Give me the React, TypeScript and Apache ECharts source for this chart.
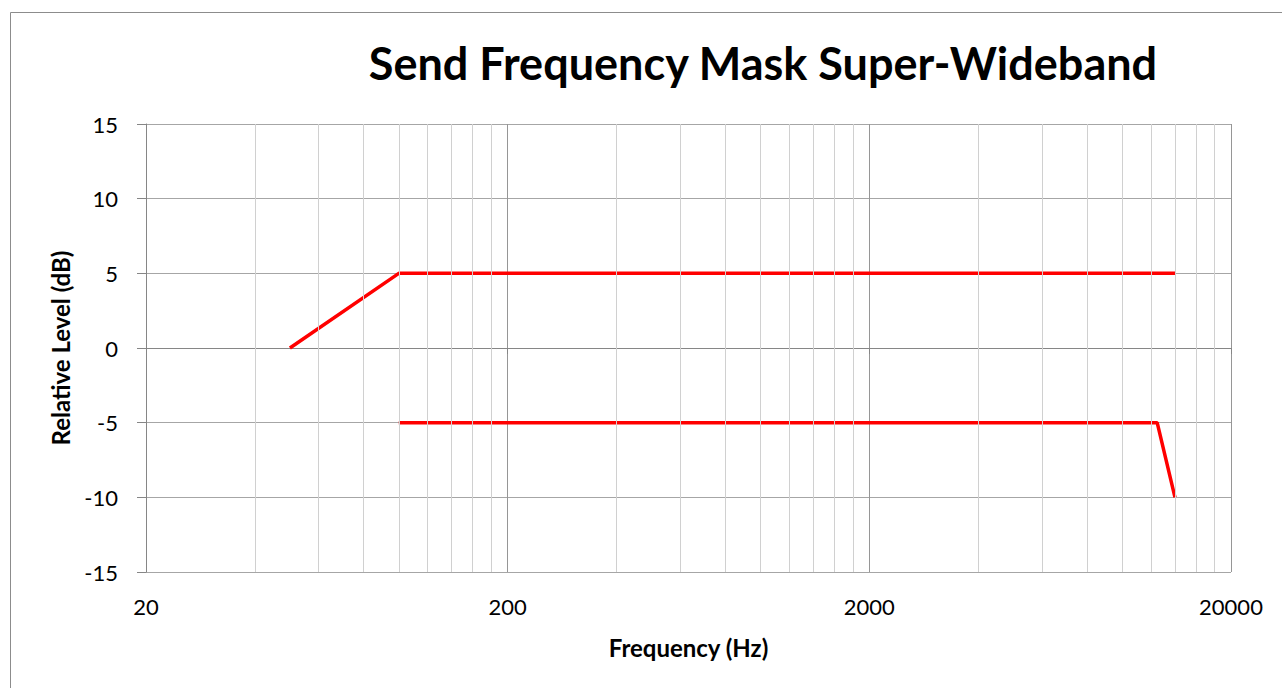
import React, { useEffect, useRef } from "react";
import * as echarts from "echarts";

const TITLE = "Send Frequency Mask Super-Wideband";
const X_NAME = "Frequency (Hz)";
const Y_NAME = "Relative Level (dB)";

const X_MAJOR = [20, 200, 2000, 20000];
const X_MINOR = [
  40, 60, 80, 100, 120, 140, 160, 180,
  400, 600, 800, 1000, 1200, 1400, 1600, 1800,
  4000, 6000, 8000, 10000, 12000, 14000, 16000, 18000,
];

const UPPER_FREQ = [50, 100, 14000];
const UPPER_DB = [0, 5, 5];
const LOWER_FREQ = [100, 12500, 14000];
const LOWER_DB = [-5, -5, -10];

const FONT = "Lato, 'Open Sans', sans-serif";

export default function App() {
  const ref = useRef<HTMLDivElement>(null);
  useEffect(() => {
    if (!ref.current) return;
    const chart = echarts.init(ref.current, undefined, { renderer: "svg" });
    const red = { color: "#ff0000", width: 3.5 };
    chart.setOption({
      animation: false,
      backgroundColor: "#ffffff",
      textStyle: { fontFamily: FONT },
      title: {
        text: TITLE,
        left: 758,
        top: 35,
        textAlign: "center",
        textStyle: { fontFamily: FONT, fontSize: 45, fontWeight: "bold", color: "#000" },
      },
      graphic: [
        {
          type: "rect",
          shape: { x: 10.5, y: 12.5, width: 1300, height: 700 },
          style: { fill: "none", stroke: "#8c8c8c", lineWidth: 1 },
          silent: true,
          z: -1,
        },
      ],
      grid: { left: 146, right: 51, top: 124, bottom: 116, containLabel: false },
      xAxis: {
        type: "log",
        logBase: 10,
        min: 20,
        max: 20000,
        name: X_NAME,
        nameLocation: "middle",
        nameGap: 63,
        nameTextStyle: { fontFamily: FONT, fontSize: 24, fontWeight: "bold", color: "#000" },
        axisLine: { show: true, lineStyle: { color: "#868686", width: 1 } },
        axisTick: { show: true, length: 6, customValues: X_MAJOR, lineStyle: { color: "#868686" } },
        axisLabel: {
          customValues: X_MAJOR,
          margin: 23,
          fontFamily: FONT,
          fontSize: 22,
          color: "#000",
          formatter: (v: number) => String(Math.round(v)),
        },
        splitLine: { show: true, lineStyle: { color: "#969696", width: 1 } },
        minorTick: { show: false },
        minorSplitLine: { show: false },
      },
      yAxis: {
        type: "value",
        min: -15,
        max: 15,
        interval: 5,
        name: Y_NAME,
        nameLocation: "middle",
        nameGap: 74,
        nameRotate: 90,
        nameTextStyle: { fontFamily: FONT, fontSize: 24, fontWeight: "bold", color: "#000" },
        axisLine: { show: true, lineStyle: { color: "#868686", width: 1 } },
        axisTick: { show: true, inside: false, length: 9, lineStyle: { color: "#868686" } },
        axisLabel: { margin: 28, fontFamily: FONT, fontSize: 22, color: "#000" },
        splitLine: { show: true, lineStyle: { color: "#a6a6a6", width: 1 } },
      },
      series: [
        {
          type: "line",
          data: [],
          silent: true,
          z: 1,
          markLine: {
            silent: true,
            symbol: ["none", "none"],
            label: { show: false },
            lineStyle: { color: "#d0d0d0", type: "solid", width: 1 },
            emphasis: { disabled: true },
            data: X_MINOR.map((v) => ({ xAxis: v })),
          },
        },
        {
          type: "line",
          data: UPPER_FREQ.map((f, i) => [f, UPPER_DB[i]]),
          showSymbol: false,
          symbol: "none",
          lineStyle: red,
          itemStyle: { color: "#ff0000" },
          z: 3,
          silent: true,
        },
        {
          type: "line",
          data: LOWER_FREQ.map((f, i) => [f, LOWER_DB[i]]),
          showSymbol: false,
          symbol: "none",
          lineStyle: red,
          itemStyle: { color: "#ff0000" },
          z: 3,
          silent: true,
        },
      ],
    });
    return () => chart.dispose();
  }, []);
  return (
    <div
      ref={ref}
      style={{ position: "fixed", left: 0, top: 0, width: 1282, height: 688 }}
    />
  );
}
